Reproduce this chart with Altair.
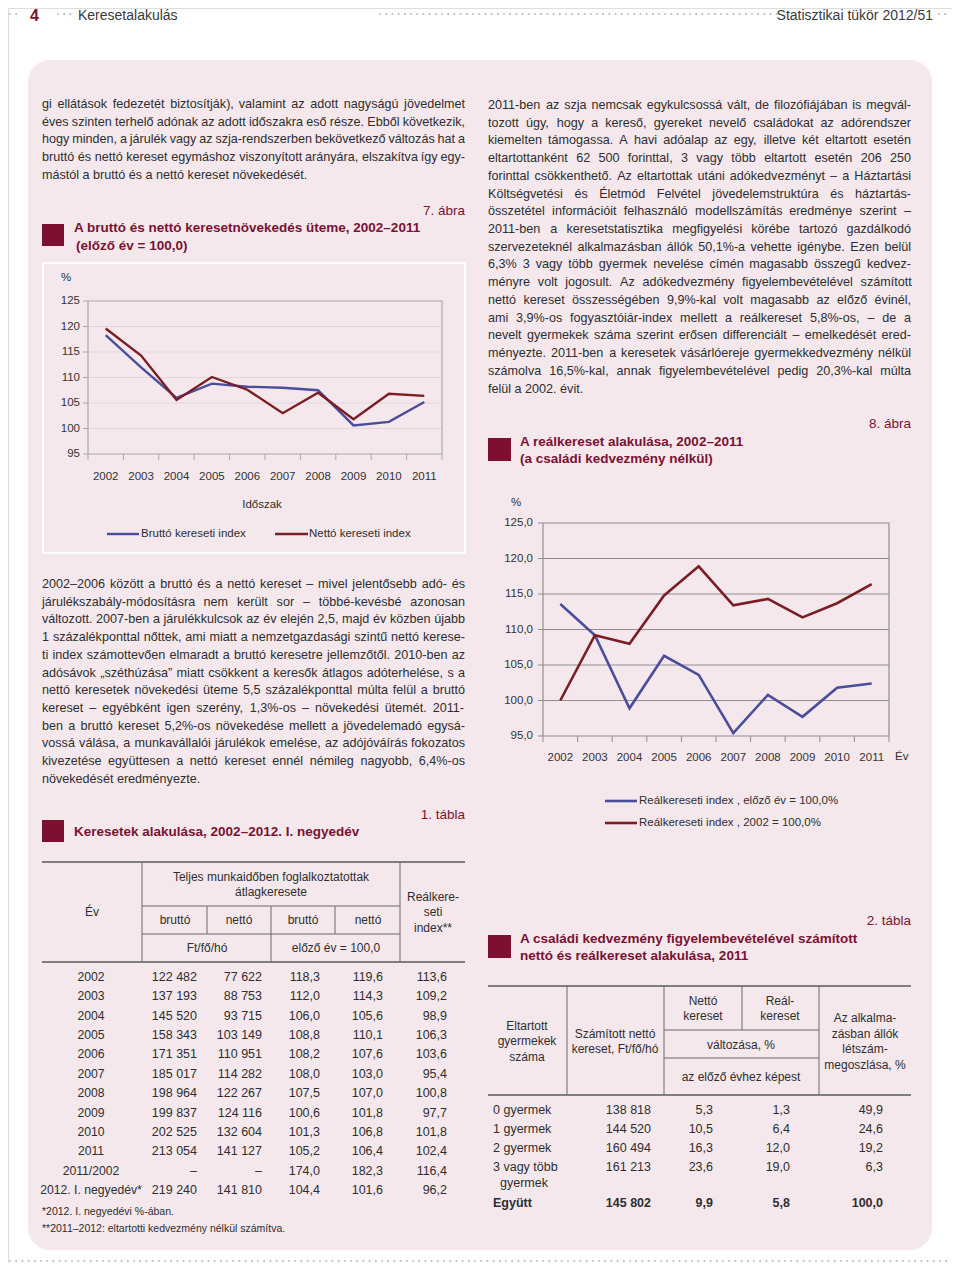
import unicodedata
import altair as alt
import pandas as pd

# ---------------- data ----------------
years = [2002, 2003, 2004, 2005, 2006, 2007, 2008, 2009, 2010, 2011]
brutto_index = [118.3, 112.0, 106.0, 108.8, 108.2, 108.0, 107.5, 100.6, 101.3, 105.2]
netto_index = [119.6, 114.3, 105.6, 110.1, 107.6, 103.0, 107.0, 101.8, 106.8, 106.4]
real_prev_year = [113.6, 109.2, 98.9, 106.3, 103.6, 95.4, 100.8, 97.7, 101.8, 102.4]
real_base_2002 = [100.0, 109.2, 108.0, 114.8, 118.9, 113.4, 114.3, 111.7, 113.7, 116.4]
y_ticks = [95, 100, 105, 110, 115, 120, 125]

t1_ev = ["2002", "2003", "2004", "2005", "2006", "2007", "2008", "2009", "2010", "2011",
         "2011/2002", "2012. I. negyedév*"]
t1_brutto_ft = ["122 482", "137 193", "145 520", "158 343", "171 351", "185 017", "198 964",
                "199 837", "202 525", "213 054", "–", "219 240"]
t1_netto_ft = ["77 622", "88 753", "93 715", "103 149", "110 951", "114 282", "122 267",
               "124 116", "132 604", "141 127", "–", "141 810"]
t1_brutto_idx = ["118,3", "112,0", "106,0", "108,8", "108,2", "108,0", "107,5", "100,6",
                 "101,3", "105,2", "174,0", "104,4"]
t1_netto_idx = ["119,6", "114,3", "105,6", "110,1", "107,6", "103,0", "107,0", "101,8",
                "106,8", "106,4", "182,3", "101,6"]
t1_real_idx = ["113,6", "109,2", "98,9", "106,3", "103,6", "95,4", "100,8", "97,7",
               "101,8", "102,4", "116,4", "96,2"]

t2_cat = ["0 gyermek", "1 gyermek", "2 gyermek", "3 vagy több", "Együtt"]
t2_netto_ft = ["138 818", "144 520", "160 494", "161 213", "145 802"]
t2_netto_chg = ["5,3", "10,5", "16,3", "23,6", "9,9"]
t2_real_chg = ["1,3", "6,4", "12,0", "19,0", "5,8"]
t2_share = ["49,9", "24,6", "19,2", "6,3", "100,0"]

para_left_1 = [
    "gi ellátások fedezetét biztosítják), valamint az adott nagyságú jövedelmet",
    "éves szinten terhelő adónak az adott időszakra eső része. Ebből következik,",
    "hogy minden, a járulék vagy az szja-rendszerben bekövetkező változás hat a",
    "bruttó és nettó kereset egymáshoz viszonyított arányára, elszakítva így egy-",
    "mástól a bruttó és a nettó kereset növekedését.",
]
para_left_2 = [
    "2002–2006 között a bruttó és a nettó kereset – mivel jelentősebb adó- és",
    "járulékszabály-módosításra nem került sor – többé-kevésbé azonosan",
    "változott. 2007-ben a járulékkulcsok az év elején 2,5, majd év közben újabb",
    "1 százalékponttal nőttek, ami miatt a nemzetgazdasági szintű nettó kerese-",
    "ti index számottevően elmaradt a bruttó keresetre jellemzőtől. 2010-ben az",
    "adósávok „széthúzása” miatt csökkent a keresők átlagos adóterhelése, s a",
    "nettó keresetek növekedési üteme 5,5 százalékponttal múlta felül a bruttó",
    "kereset – egyébként igen szerény, 1,3%-os – növekedési ütemét. 2011-",
    "ben a bruttó kereset 5,2%-os növekedése mellett a jövedelemadó egysá-",
    "vossá válása, a munkavállalói járulékok emelése, az adójóváírás fokozatos",
    "kivezetése együttesen a nettó kereset ennél némileg nagyobb, 6,4%-os",
    "növekedését eredményezte.",
]
para_right = [
    "2011-ben az szja nemcsak egykulcsossá vált, de filozófiájában is megvál-",
    "tozott úgy, hogy a kereső, gyereket nevelő családokat az adórendszer",
    "kiemelten támogassa. A havi adóalap az egy, illetve két eltartott esetén",
    "eltartottanként 62 500 forinttal, 3 vagy több eltartott esetén 206 250",
    "forinttal csökkenthető. Az eltartottak utáni adókedvezményt – a Háztartási",
    "Költségvetési és Életmód Felvétel jövedelemstruktúra és háztartás-",
    "összetétel információit felhasználó modellszámítás eredménye szerint –",
    "2011-ben a keresetstatisztika megfigyelési körébe tartozó gazdálkodó",
    "szervezeteknél alkalmazásban állók 50,1%-a vehette igénybe. Ezen belül",
    "6,3% 3 vagy több gyermek nevelése címén magasabb összegű kedvez-",
    "ményre volt jogosult. Az adókedvezmény figyelembevételével számított",
    "nettó kereset összességében 9,9%-kal volt magasabb az előző évinél,",
    "ami 3,9%-os fogyasztóiár-index mellett a reálkereset 5,8%-os, – de a",
    "nevelt gyermekek száma szerint erősen differenciált – emelkedését ered-",
    "ményezte. 2011-ben a keresetek vásárlóereje gyermekkedvezmény nélkül",
    "számolva 16,5%-kal, annak figyelembevételével pedig 20,3%-kal múlta",
    "felül a 2002. évit.",
]

# ---------------- style ----------------
OX = OY = 8
W, H = 944, 1255
BODY = "Liberation Sans, Arial, sans-serif"
TXT = "#2e2e2e"
MAROON = "#7a1232"
PINK = "#f4e8ed"
BLUE = "#4a4e9a"
RED = "#7b1d24"
PARA = 12.6

# Liberation Sans (Arial-compatible) advance widths, 1/1000 em, used to justify lines
_AW = {" ": 278, "!": 278, '"': 355, "%": 889, "&": 667, "'": 191, "(": 333, ")": 333,
       "*": 389, "+": 584, ",": 278, "-": 333, ".": 278, "/": 278, ":": 278, ";": 278,
       "=": 584, "?": 556, "–": 556, "„": 333, "”": 333,
       "A": 667, "B": 667, "C": 722, "D": 722, "E": 667, "F": 611, "G": 778, "H": 722,
       "I": 278, "J": 500, "K": 667, "L": 556, "M": 833, "N": 722, "O": 778, "P": 667,
       "Q": 778, "R": 722, "S": 667, "T": 611, "U": 722, "V": 667, "W": 944, "X": 667,
       "Y": 667, "Z": 611,
       "a": 556, "b": 556, "c": 500, "d": 556, "e": 556, "f": 278, "g": 556, "h": 556,
       "i": 222, "j": 222, "k": 500, "l": 222, "m": 833, "n": 556, "o": 556, "p": 556,
       "q": 556, "r": 333, "s": 500, "t": 278, "u": 556, "v": 500, "w": 722, "x": 500,
       "y": 500, "z": 500}


def text_width(s, size):
    total = 0
    for ch in s:
        if ch.isdigit():
            total += 556
            continue
        if ch not in _AW:
            ch = unicodedata.normalize("NFD", ch)[0]
        total += _AW.get(ch, 556)
    return total * size / 1000.0


layers = []


def txt(items, size=14, color=TXT, align="left", weight="normal", baseline="middle", font=BODY):
    df = pd.DataFrame(items, columns=["x", "y", "t"])
    df["x"] = df["x"] - OX
    df["y"] = df["y"] - OY
    layers.append(
        alt.Chart(df).mark_text(align=align, baseline=baseline, fontSize=size, color=color,
                                fontWeight=weight, font=font)
        .encode(x=alt.X("x:Q", scale=None, axis=None),
                y=alt.Y("y:Q", scale=None, axis=None),
                text="t:N"))


def justified(lines, x0, y0, width, size, lh=17.72):
    items = []
    for i, line in enumerate(lines):
        y = y0 + i * lh
        words = line.split(" ")
        if i == len(lines) - 1 or len(words) == 1:
            items.append((x0, y, line))
            continue
        ws = [text_width(w, size) for w in words]
        gap = (width - sum(ws)) / (len(words) - 1)
        x = x0
        for w, wd in zip(words, ws):
            items.append((x, y, w))
            x += wd + gap
    txt(items, size=size)


def rules(items, color, width=1.0):
    df = pd.DataFrame(items, columns=["x", "y", "x2", "y2"])
    for c in ["x", "x2"]:
        df[c] = df[c] - OX
    for c in ["y", "y2"]:
        df[c] = df[c] - OY
    layers.append(
        alt.Chart(df).mark_rule(color=color, strokeWidth=width)
        .encode(x=alt.X("x:Q", scale=None, axis=None), x2="x2:Q",
                y=alt.Y("y:Q", scale=None, axis=None), y2="y2:Q"))


def dots(segments, y, step=6.2):
    xs = []
    for a, b in segments:
        n = int((b - a) / step) + 1
        xs += [a + i * step for i in range(n)]
    df = pd.DataFrame({"x": [v - OX for v in xs], "y": [y - OY] * len(xs)})
    layers.append(
        alt.Chart(df).mark_point(shape="square", filled=True, size=3, color="#b5b5b5", opacity=1)
        .encode(x=alt.X("x:Q", scale=None, axis=None), y=alt.Y("y:Q", scale=None, axis=None)))


# page background card
card = pd.DataFrame({"x": [28 - OX], "x2": [932 - OX], "y": [60 - OY], "y2": [1250 - OY]})
layers.append(alt.Chart(card).mark_rect(fill=PINK, cornerRadius=22)
              .encode(x=alt.X("x:Q", scale=None, axis=None), x2="x2:Q",
                      y=alt.Y("y:Q", scale=None, axis=None), y2="y2:Q"))

# header / footer dotted lines
dots([(10, 22), (58, 72), (380, 777), (939, 951)], 14)
dots([(10, 951)], 1261)
txt([(30, 16, "4")], size=16, color=MAROON, weight="bold")
txt([(78, 16, "Keresetalakulás")], size=14, color="#3a3a3a")
txt([(933, 16, "Statisztikai tükör 2012/51")], size=14, color="#3a3a3a", align="right")

# paragraphs (justified)
justified(para_left_1, 42, 104, 423, PARA)
justified(para_left_2, 42, 584, 423, PARA)
justified(para_right, 488, 105, 423, PARA)

# maroon squares
sq = pd.DataFrame({"x": [42 - OX, 42 - OX, 488 - OX, 488 - OX],
                   "x2": [64 - OX, 64 - OX, 511 - OX, 511 - OX],
                   "y": [224 - OY, 820 - OY, 438 - OY, 935 - OY],
                   "y2": [246 - OY, 842 - OY, 461 - OY, 958 - OY]})
layers.append(alt.Chart(sq).mark_rect(fill="#7d1030")
              .encode(x=alt.X("x:Q", scale=None, axis=None), x2="x2:Q",
                      y=alt.Y("y:Q", scale=None, axis=None), y2="y2:Q"))

# titles
txt([(74, 228, "A bruttó és nettó keresetnövekedés üteme, 2002–2011"),
     (76, 246, "(előző év = 100,0)"),
     (74, 832, "Keresetek alakulása, 2002–2012. I. negyedév"),
     (520, 442, "A reálkereset alakulása, 2002–2011"),
     (520, 459, "(a családi kedvezmény nélkül)"),
     (520, 939, "A családi kedvezmény figyelembevételével számított"),
     (520, 956, "nettó és reálkereset alakulása,  2011")],
    size=13.5, color=MAROON, weight="bold")
txt([(465, 211, "7. ábra"), (465, 815, "1. tábla"), (911, 424, "8. ábra"), (911, 921, "2. tábla")],
    size=13.5, color=MAROON, align="right")

# ---------------- chart 7 ----------------
box = pd.DataFrame({"x": [43 - OX], "x2": [465 - OX], "y": [263 - OY], "y2": [553 - OY]})
layers.append(alt.Chart(box).mark_rect(fillOpacity=0, stroke="white", strokeWidth=2)
              .encode(x=alt.X("x:Q", scale=None, axis=None), x2="x2:Q",
                      y=alt.Y("y:Q", scale=None, axis=None), y2="y2:Q"))


def line_panel(xl, xr, yb, yt, grid_color, frame_color, label_x, label_y, tick_fmt,
               series_names, series_values, colors, stroke_w):
    xs = alt.Scale(domain=[2001.5, 2011.5], range=[xl - OX, xr - OX], nice=False, zero=False)
    ys = alt.Scale(domain=[95, 125], range=[yb - OY, yt - OY], nice=False, zero=False)
    gdf = pd.DataFrame({"v": y_ticks[1:-1]})
    layers.append(alt.Chart(gdf).mark_rule(color=grid_color, strokeWidth=1)
                  .encode(y=alt.Y("v:Q", scale=ys, axis=None),
                          x=alt.value(xl - OX), x2=alt.value(xr - OX)))
    fdf = pd.DataFrame({"a": [2001.5], "b": [2011.5], "lo": [95], "hi": [125]})
    layers.append(alt.Chart(fdf).mark_rect(fillOpacity=0, stroke=frame_color, strokeWidth=1.2)
                  .encode(x=alt.X("a:Q", scale=xs, axis=None), x2="b:Q",
                          y=alt.Y("hi:Q", scale=ys, axis=None), y2="lo:Q"))
    tdf = pd.DataFrame({"v": y_ticks})
    layers.append(alt.Chart(tdf).mark_rule(color=frame_color, strokeWidth=1)
                  .encode(y=alt.Y("v:Q", scale=ys, axis=None),
                          x=alt.value(xl - 5 - OX), x2=alt.value(xl - OX)))
    bdf = pd.DataFrame({"b": [y - 0.5 for y in years] + [2011.5]})
    layers.append(alt.Chart(bdf).mark_rule(color=frame_color, strokeWidth=1)
                  .encode(x=alt.X("b:Q", scale=xs, axis=None),
                          y=alt.value(yb - OY), y2=alt.value(yb + 6 - OY)))
    ldf = pd.DataFrame({"v": y_ticks, "t": [tick_fmt(v) for v in y_ticks]})
    layers.append(alt.Chart(ldf).mark_text(align="right", baseline="middle", fontSize=11.5,
                                           color="#333", font=BODY)
                  .encode(y=alt.Y("v:Q", scale=ys, axis=None), x=alt.value(label_x - OX),
                          text="t:N"))
    xdf = pd.DataFrame({"yr": years, "t": [str(y) for y in years]})
    layers.append(alt.Chart(xdf).mark_text(align="center", baseline="middle", fontSize=11.5,
                                           color="#333", font=BODY)
                  .encode(x=alt.X("yr:Q", scale=xs, axis=None), y=alt.value(label_y - OY),
                          text="t:N"))
    rows = []
    for name, vals in zip(series_names, series_values):
        for y, v in zip(years, vals):
            rows.append({"yr": y, "v": v, "s": name})
    sdf = pd.DataFrame(rows)
    layers.append(alt.Chart(sdf).mark_line(strokeWidth=stroke_w)
                  .encode(x=alt.X("yr:Q", scale=xs, axis=None),
                          y=alt.Y("v:Q", scale=ys, axis=None),
                          color=alt.Color("s:N", scale=alt.Scale(domain=series_names, range=colors),
                                          legend=None),
                          order="yr:Q"))


line_panel(88, 442, 454, 301, "#e2d6dc", "#a9a9a9", 80, 477, lambda v: str(v),
           ["Bruttó kereseti index", "Nettó kereseti index"], [brutto_index, netto_index],
           [BLUE, RED], 2.4)
txt([(66, 278, "%")], size=11.5, align="center")
txt([(262, 505, "Időszak")], size=11.5, align="center")
rules([(107, 534, 139, 534)], BLUE, 2.4)
rules([(275, 534, 308, 534)], RED, 2.4)
txt([(141, 534, "Bruttó kereseti index"), (309, 534, "Nettó kereseti index")], size=11.5)

# ---------------- chart 8 ----------------
line_panel(543, 889, 736, 523, "#8f8f8f", "#8f8f8f", 533, 758,
           lambda v: f"{v:.1f}".replace(".", ","),
           ["Reálkereseti index , előző év = 100,0%", "Reálkereseti index , 2002 = 100,0%"],
           [real_prev_year, real_base_2002], [BLUE, RED], 2.6)
txt([(516, 503, "%")], size=11.5, align="center")
txt([(895, 757, "Év")], size=11.5)
rules([(605, 801, 637, 801)], BLUE, 2.6)
rules([(605, 823, 637, 823)], RED, 2.6)
txt([(639, 801, "Reálkereseti index , előző év = 100,0%"),
     (639, 823, "Reálkereseti index , 2002 = 100,0%")], size=11.5)

# ---------------- table 1 ----------------
rules([(42, 862, 465, 862), (42, 962, 465, 962)], "#5a5a5a", 1.6)
rules([(142, 862, 142, 962), (400, 862, 400, 962), (142, 906, 400, 906), (142, 934, 400, 934),
       (207, 906, 207, 934), (271, 906, 271, 962), (335, 906, 335, 934)], "#6a6a6a", 1.0)
txt([(271, 877, "Teljes munkaidőben foglalkoztatottak"), (271, 892, "átlagkeresete"),
     (92, 912, "Év"), (175, 920, "bruttó"), (239, 920, "nettó"), (303, 920, "bruttó"),
     (368, 920, "nettó"), (207, 948, "Ft/fő/hó"), (336, 948, "előző év = 100,0"),
     (433, 897, "Reálkere-"), (433, 912, "seti"), (433, 928, "index**")],
    size=12, align="center")
RH1 = 19.36
txt([(91, 977 + i * RH1, s) for i, s in enumerate(t1_ev)], size=12.2, align="center")
cols1 = [(197, t1_brutto_ft), (262, t1_netto_ft), (320, t1_brutto_idx), (383, t1_netto_idx),
         (447, t1_real_idx)]
for cx, col in cols1:
    txt([(cx, 977 + i * RH1, s) for i, s in enumerate(col)], size=12.5, align="right")
txt([(42, 1212, "*2012. I. negyedévi %-ában."),
     (42, 1229, "**2011–2012: eltartotti kedvezmény nélkül számítva.")], size=10.5)

# ---------------- table 2 ----------------
rules([(488, 986, 911, 986), (488, 1095, 911, 1095)], "#5a5a5a", 1.6)
rules([(567, 986, 567, 1095), (664, 986, 664, 1095), (819, 986, 819, 1095),
       (742, 986, 742, 1030), (664, 1030, 819, 1030), (664, 1058, 819, 1058)], "#6a6a6a", 1.0)
txt([(527, 1026, "Eltartott"), (527, 1041, "gyermekek"), (527, 1057, "száma"),
     (615, 1034, "Számított nettó"), (615, 1049, "kereset, Ft/fő/hó"),
     (703, 1001, "Nettó"), (703, 1016, "kereset"), (780, 1001, "Reál-"), (780, 1016, "kereset"),
     (741, 1045, "változása, %"), (741, 1077, "az előző évhez képest"),
     (865, 1018, "Az alkalma-"), (865, 1034, "zásban állók"), (865, 1049, "létszám-"),
     (865, 1065, "megoszlása, %")], size=12, align="center")
t2_y = [1110, 1129, 1148, 1167, 1203]
txt([(493, y, s) for y, s in zip(t2_y[:4], t2_cat[:4])] + [(500, 1183, "gyermek")], size=12.5)
txt([(493, t2_y[4], t2_cat[4])], size=12.5, weight="bold")
cols2 = [(651, t2_netto_ft), (713, t2_netto_chg), (790, t2_real_chg), (883, t2_share)]
for cx, col in cols2:
    txt([(cx, y, s) for y, s in zip(t2_y[:4], col[:4])], size=12.5, align="right")
    txt([(cx, t2_y[4], col[4])], size=12.5, align="right", weight="bold")

chart = (alt.layer(*layers)
         .resolve_scale(x="independent", y="independent", color="independent")
         .properties(width=W, height=H, padding=0, autosize=alt.AutoSizeParams(type="none"))
         .configure_view(stroke=None)
         .configure(background="white"))

chart.save("out.html", embed_options={"renderer": "svg", "actions": False})
